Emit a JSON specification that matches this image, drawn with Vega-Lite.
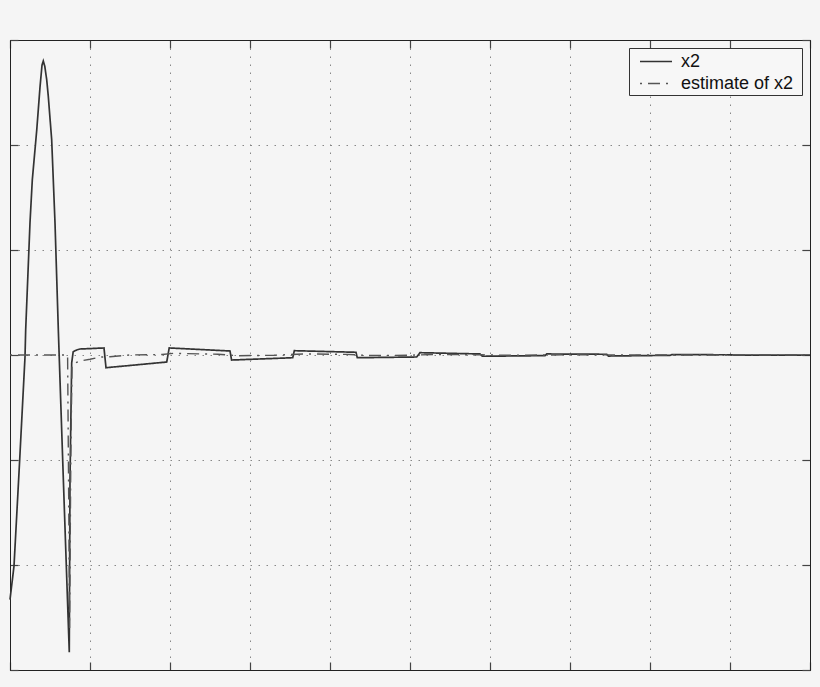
{
  "$schema": "https://vega.github.io/schema/vega-lite/v6.json",
  "width": 800,
  "height": 630,
  "autosize": "none",
  "padding": {"left": 10, "top": 40, "right": 10, "bottom": 17},
  "background": "#f5f5f5",
  "data": {
    "values": [
      {"series": "x2", "t": 0, "v": -2.33},
      {"series": "x2", "t": 0.05, "v": -2.01},
      {"series": "x2", "t": 0.121, "v": -1.0},
      {"series": "x2", "t": 0.1875, "v": -0.02},
      {"series": "x2", "t": 0.196, "v": 0.24},
      {"series": "x2", "t": 0.25, "v": 1.26},
      {"series": "x2", "t": 0.279, "v": 1.67},
      {"series": "x2", "t": 0.334, "v": 2.14},
      {"series": "x2", "t": 0.375, "v": 2.55},
      {"series": "x2", "t": 0.4, "v": 2.76},
      {"series": "x2", "t": 0.416, "v": 2.8},
      {"series": "x2", "t": 0.435, "v": 2.75},
      {"series": "x2", "t": 0.459, "v": 2.62},
      {"series": "x2", "t": 0.479, "v": 2.46},
      {"series": "x2", "t": 0.521, "v": 2.05},
      {"series": "x2", "t": 0.541, "v": 1.67},
      {"series": "x2", "t": 0.5625, "v": 1.26},
      {"series": "x2", "t": 0.604, "v": 0.24},
      {"series": "x2", "t": 0.667, "v": -1.19},
      {"series": "x2", "t": 0.741, "v": -2.83},
      {"series": "x2", "t": 0.75, "v": -1.19},
      {"series": "x2", "t": 0.771, "v": -0.076},
      {"series": "x2", "t": 0.79, "v": 0.031},
      {"series": "x2", "t": 0.834, "v": 0.048},
      {"series": "x2", "t": 0.875, "v": 0.057},
      {"series": "x2", "t": 1.175, "v": 0.067},
      {"series": "x2", "t": 1.2, "v": -0.121},
      {"series": "x2", "t": 1.959, "v": -0.067},
      {"series": "x2", "t": 1.99, "v": 0.067},
      {"series": "x2", "t": 2.75, "v": 0.038},
      {"series": "x2", "t": 2.77, "v": -0.048},
      {"series": "x2", "t": 3.534, "v": -0.026},
      {"series": "x2", "t": 3.554, "v": 0.041},
      {"series": "x2", "t": 4.325, "v": 0.026},
      {"series": "x2", "t": 4.341, "v": -0.026},
      {"series": "x2", "t": 5.084, "v": -0.019},
      {"series": "x2", "t": 5.125, "v": 0.022},
      {"series": "x2", "t": 5.875, "v": 0.01},
      {"series": "x2", "t": 5.904, "v": -0.012},
      {"series": "x2", "t": 6.6875, "v": -0.006},
      {"series": "x2", "t": 6.709, "v": 0.01},
      {"series": "x2", "t": 7.459, "v": 0.007},
      {"series": "x2", "t": 7.479, "v": -0.01},
      {"series": "x2", "t": 8.25, "v": -0.003},
      {"series": "x2", "t": 8.275, "v": 0.004},
      {"series": "x2", "t": 9.025, "v": 0.002},
      {"series": "x2", "t": 9.05, "v": -0.002},
      {"series": "x2", "t": 10, "v": 0},
      {"series": "estimate of x2", "t": 0, "v": 0},
      {"series": "estimate of x2", "t": 0.72, "v": 0},
      {"series": "estimate of x2", "t": 0.735, "v": -1.5},
      {"series": "estimate of x2", "t": 0.745, "v": -2.6},
      {"series": "estimate of x2", "t": 0.76, "v": -1.0},
      {"series": "estimate of x2", "t": 0.775, "v": -0.1},
      {"series": "estimate of x2", "t": 0.82, "v": -0.075},
      {"series": "estimate of x2", "t": 0.875, "v": -0.057},
      {"series": "estimate of x2", "t": 1.0, "v": -0.04},
      {"series": "estimate of x2", "t": 1.125, "v": -0.02},
      {"series": "estimate of x2", "t": 1.25, "v": -0.016},
      {"series": "estimate of x2", "t": 1.5, "v": 0.0},
      {"series": "estimate of x2", "t": 1.9, "v": 0.005},
      {"series": "estimate of x2", "t": 2.05, "v": 0.016},
      {"series": "estimate of x2", "t": 2.6, "v": 0.007},
      {"series": "estimate of x2", "t": 2.85, "v": -0.007},
      {"series": "estimate of x2", "t": 3.3, "v": -0.002},
      {"series": "estimate of x2", "t": 3.7, "v": 0.01},
      {"series": "estimate of x2", "t": 4.2, "v": 0.006},
      {"series": "estimate of x2", "t": 4.5, "v": -0.005},
      {"series": "estimate of x2", "t": 5.0, "v": -0.002},
      {"series": "estimate of x2", "t": 5.3, "v": 0.005},
      {"series": "estimate of x2", "t": 5.9, "v": 0.002},
      {"series": "estimate of x2", "t": 6.2, "v": -0.003},
      {"series": "estimate of x2", "t": 7, "v": 0.002},
      {"series": "estimate of x2", "t": 8, "v": 0},
      {"series": "estimate of x2", "t": 10, "v": 0}
    ]
  },
  "layer": [
    {
      "mark": {"type": "line"},
      "encoding": {
        "x": {
          "field": "t", "type": "quantitative",
          "scale": {"domain": [0, 10], "nice": false},
          "axis": {"orient": "bottom", "values": [0,1,2,3,4,5,6,7,8,9,10], "labels": false, "title": null, "grid": true}
        },
        "y": {
          "field": "v", "type": "quantitative",
          "scale": {"domain": [-3, 3], "nice": false},
          "axis": {"orient": "left", "values": [-3,-2,-1,0,1,2,3], "labels": false, "title": null, "grid": true}
        },
        "color": {
          "field": "series", "type": "nominal",
          "scale": {"domain": ["x2", "estimate of x2"], "range": ["#333333", "#555555"]},
          "legend": {"title": null}
        },
        "strokeDash": {
          "field": "series", "type": "nominal",
          "scale": {"domain": ["x2", "estimate of x2"], "range": [[1, 0], [2, 6, 12, 6]]},
          "legend": {"title": null}
        },
        "strokeWidth": {
          "field": "series", "type": "nominal",
          "scale": {"domain": ["x2", "estimate of x2"], "range": [1.7, 1.4]},
          "legend": null
        }
      }
    },
    {
      "mark": {"type": "line", "opacity": 0},
      "encoding": {
        "x": {
          "field": "t", "type": "quantitative",
          "axis": {"orient": "top", "values": [0,1,2,3,4,5,6,7,8,9,10], "labels": false, "title": null, "grid": false}
        },
        "y": {
          "field": "v", "type": "quantitative",
          "axis": {"orient": "right", "values": [-3,-2,-1,0,1,2,3], "labels": false, "title": null, "grid": false}
        }
      }
    }
  ],
  "resolve": {"axis": {"x": "independent", "y": "independent"}},
  "config": {
    "view": {"stroke": "#222222", "strokeWidth": 1},
    "axis": {
      "domainColor": "#222222",
      "tickColor": "#444444",
      "tickSize": -8,
      "tickWidth": 1.2,
      "gridColor": "#888888",
      "gridDash": [1.5, 6.5],
      "gridWidth": 1,
      "gridOpacity": 1
    },
    "legend": {
      "orient": "top-right",
      "offset": 8,
      "strokeColor": "#333333",
      "fillColor": "#f7f7f7",
      "padding": 2,
      "labelFont": "Liberation Sans",
      "labelFontSize": 18,
      "labelColor": "#111111",
      "labelOffset": 27,
      "symbolType": "M-0.238,0H2.81M14.62,0",
      "symbolSize": 441,
      "symbolStrokeWidth": 1.4,
      "rowPadding": 1
    }
  }
}
